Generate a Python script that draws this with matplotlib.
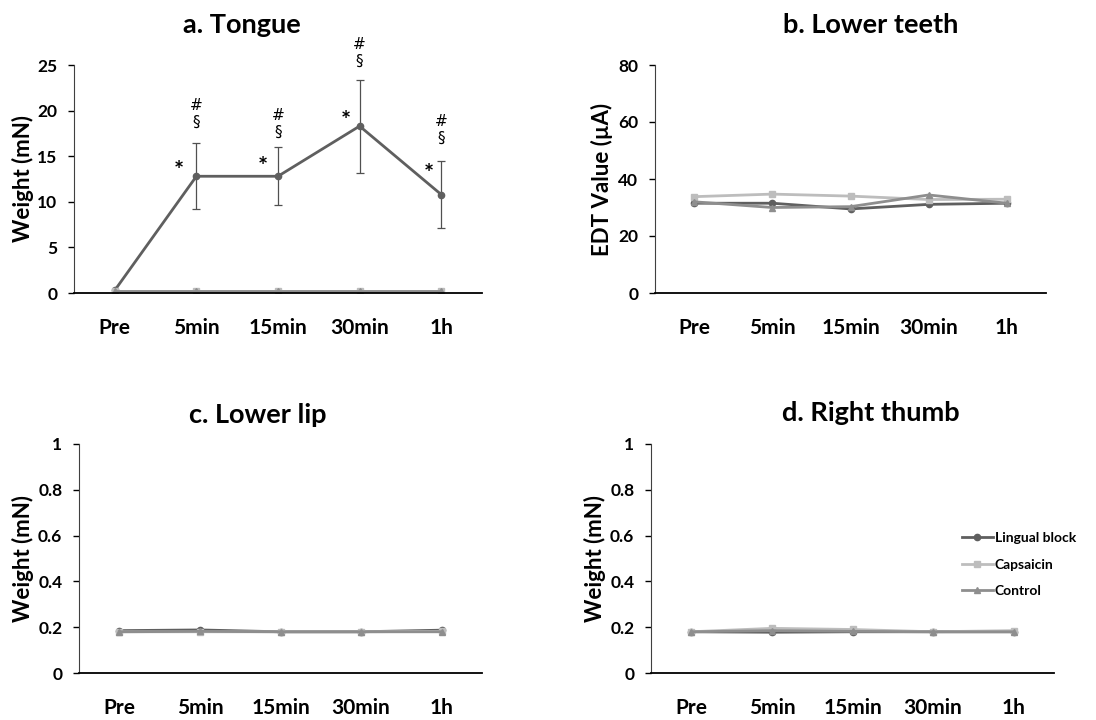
import numpy as np
import matplotlib
matplotlib.use("Agg")
import matplotlib.pyplot as plt

plt.rcParams["font.family"] = ["Lato", "DejaVu Sans"]
plt.rcParams["font.weight"] = "bold"

times = ["Pre", "5min", "15min", "30min", "1h"]
x = np.arange(len(times))

# a. Tongue (mN)
tongue_lingual = [0.3, 12.8, 12.8, 18.3, 10.8]
tongue_lingual_err = [0.0, 3.6, 3.2, 5.1, 3.7]
tongue_capsaicin = [0.2, 0.2, 0.2, 0.2, 0.2]
tongue_control = [0.2, 0.2, 0.2, 0.2, 0.2]
tongue_marks = ["", "*", "*", "*", "*"]      # vs Pre
tongue_marks2 = ["", "#\n§", "#\n§", "#\n§", "#\n§"]  # vs capsaicin / control

# b. Lower teeth (EDT, µA)
teeth_lingual = [31.5, 31.5, 29.5, 31.1, 31.5]
teeth_capsaicin = [33.8, 34.7, 34.0, 32.8, 32.9]
teeth_control = [32.0, 30.0, 30.3, 34.4, 31.5]

# c. Lower lip (mN)
lip_lingual = [0.185, 0.188, 0.18, 0.18, 0.187]
lip_capsaicin = [0.18, 0.18, 0.18, 0.18, 0.182]
lip_control = [0.18, 0.182, 0.18, 0.18, 0.18]

# d. Right thumb (mN)
thumb_lingual = [0.18, 0.178, 0.18, 0.18, 0.18]
thumb_capsaicin = [0.18, 0.195, 0.19, 0.18, 0.185]
thumb_control = [0.18, 0.185, 0.182, 0.18, 0.18]

c_ling = "#5f5f5f"
c_caps = "#bdbdbd"
c_ctrl = "#8e8e8e"
lw = 2.0
ms = 4.5

# hand placement of the significance marks (offset points)
star_off = [None, (-13, -5), (-11, -2), (-10, -5), (-9, 6)]
sig_off = [None, 10, 5, 8, 11]

fig = plt.figure(figsize=(10.96, 7.2), dpi=100)
W, H = 1096, 720


def make_ax(l, r, t, b):
    return fig.add_axes([l / W, (H - b) / H, (r - l) / W, (b - t) / H])


def style(ax, ylim, yticks, ylabel, labx):
    ax.set_xlim(-0.5, 4.5)
    ax.set_ylim(*ylim)
    ax.set_yticks(yticks)
    ax.set_yticklabels([f"{v:g}" for v in yticks], fontsize=12.5, fontweight="bold")
    ax.set_xticks(x)
    ax.set_xticklabels(times, fontsize=15, fontweight="bold")
    ax.tick_params(axis="x", length=0, pad=18)
    ax.tick_params(axis="y", length=4, width=1, pad=8, direction="out")
    for s in ["top", "right"]:
        ax.spines[s].set_visible(False)
    ax.spines["left"].set_color("#404040")
    ax.spines["bottom"].set_color("black")
    ax.spines["bottom"].set_linewidth(1.3)
    ax.set_ylabel(ylabel, fontsize=16, fontweight="bold")
    ax.yaxis.set_label_coords(labx, 0.5)


def draw_three(ax, ling, caps, ctrl):
    ax.plot(x, ling, color=c_ling, lw=lw, marker="o", ms=ms, label="Lingual block", zorder=3)
    ax.plot(x, caps, color=c_caps, lw=lw, marker="s", ms=ms, label="Capsaicin", zorder=3)
    ax.plot(x, ctrl, color=c_ctrl, lw=lw, marker="^", ms=ms, label="Control", zorder=3)


# a. Tongue
ax1 = make_ax(74, 482, 65, 293)
ax1.errorbar(x[1:], tongue_lingual[1:], yerr=tongue_lingual_err[1:], fmt="none",
             ecolor="#505050", elinewidth=0.9, capsize=3, capthick=0.9, zorder=2)
draw_three(ax1, tongue_lingual, tongue_capsaicin, tongue_control)
style(ax1, (0, 25), [0, 5, 10, 15, 20, 25], "Weight (mN)", -0.098)
ax1.spines["bottom"].set_zorder(4)
for i in range(1, 5):
    ax1.annotate(tongue_marks[i], (x[i], tongue_lingual[i]), xytext=star_off[i],
                 textcoords="offset points", ha="center", va="bottom",
                 fontsize=17, fontweight="bold")
    top = tongue_lingual[i] + tongue_lingual_err[i]
    ax1.annotate(tongue_marks2[i], (x[i], top), xytext=(0, sig_off[i]),
                 textcoords="offset points", ha="center", va="bottom",
                 fontsize=11, fontweight="normal", linespacing=1.15,
                 family=["DejaVu Sans"])

# b. Lower teeth
ax2 = make_ax(655, 1046, 65, 293)
draw_three(ax2, teeth_lingual, teeth_capsaicin, teeth_control)
style(ax2, (0, 80), [0, 20, 40, 60, 80], "EDT Value (µA)", -0.107)

# c. Lower lip
ax3 = make_ax(79, 482, 444, 673)
draw_three(ax3, lip_lingual, lip_capsaicin, lip_control)
style(ax3, (0, 1), [0, 0.2, 0.4, 0.6, 0.8, 1.0], "Weight (mN)", -0.112)

# d. Right thumb
ax4 = make_ax(651, 1054, 444, 673)
draw_three(ax4, thumb_lingual, thumb_capsaicin, thumb_control)
style(ax4, (0, 1), [0, 0.2, 0.4, 0.6, 0.8, 1.0], "Weight (mN)", -0.112)
leg = ax4.legend(loc="upper left", bbox_to_anchor=(955 / W, (H - 525) / H),
                 bbox_transform=fig.transFigure, frameon=False,
                 handlelength=2.2, handletextpad=0.15, labelspacing=1.05,
                 borderpad=0, prop={"weight": "bold", "size": 10})

fig.text(242 / W, 1 - 25 / H, "a. Tongue", ha="center", va="center", fontsize=19.5, fontweight="bold")
fig.text(871 / W, 1 - 25 / H, "b. Lower teeth", ha="center", va="center", fontsize=19.5, fontweight="bold")
fig.text(258 / W, 1 - 415 / H, "c. Lower lip", ha="center", va="center", fontsize=19.5, fontweight="bold")
fig.text(871 / W, 1 - 413 / H, "d. Right thumb", ha="center", va="center", fontsize=19.5, fontweight="bold")

fig.savefig("out.png", dpi=100)
